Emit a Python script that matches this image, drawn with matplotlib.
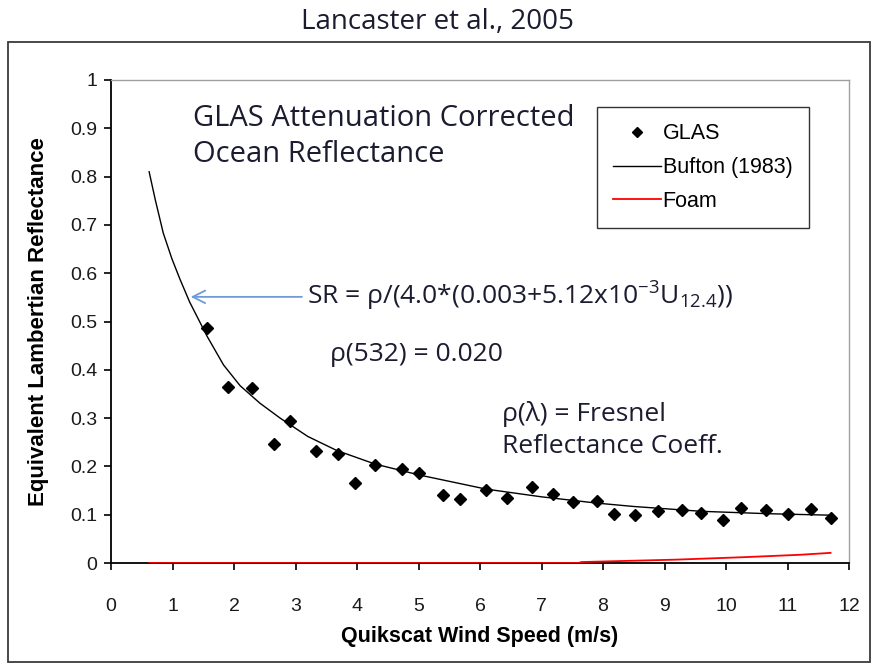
import matplotlib
matplotlib.use("Agg")
import matplotlib.pyplot as plt
from matplotlib.patches import Rectangle
import numpy as np

plt.rcParams['mathtext.fontset'] = 'custom'
plt.rcParams['mathtext.rm'] = 'Open Sans'
plt.rcParams['mathtext.it'] = 'Open Sans'

glas_x = [1.56, 1.90, 2.30, 2.65, 2.91, 3.33, 3.69, 3.97, 4.29, 4.73, 5.01, 5.40, 5.68,
          6.10, 6.44, 6.85, 7.19, 7.51, 7.90, 8.18, 8.52, 8.89, 9.28, 9.59, 9.95,
          10.24, 10.65, 11.01, 11.38, 11.71]
glas_y = [0.487, 0.364, 0.362, 0.247, 0.293, 0.232, 0.225, 0.166, 0.203, 0.195, 0.186, 0.141, 0.133,
          0.151, 0.135, 0.157, 0.143, 0.126, 0.128, 0.101, 0.099, 0.108, 0.110, 0.104, 0.089,
          0.114, 0.110, 0.101, 0.112, 0.093]

# Bufton (1983) curve
bufton_x = [0.62, 0.72, 0.85, 0.99, 1.12, 1.28, 1.56, 1.83, 2.10, 2.42, 2.75, 3.20, 3.67,
            4.29, 5.02, 6.10, 7.00, 7.90, 8.50, 9.60, 10.70, 11.70]
bufton_y = [0.810, 0.752, 0.683, 0.630, 0.588, 0.540, 0.470, 0.410, 0.367, 0.331, 0.300, 0.262,
            0.233, 0.205, 0.182, 0.153, 0.137, 0.124, 0.117, 0.107, 0.102, 0.099]

# Foam contribution
foam_x = [0.62, 7.60, 7.65, 9.20, 10.28, 11.20, 11.70]
foam_y = [0.0, 0.0, 0.002, 0.007, 0.012, 0.017, 0.021]

txt_font = ['Open Sans', 'DejaVu Sans']
ax_font = ['Liberation Sans Narrow', 'Liberation Sans', 'DejaVu Sans']
lbl_font = ['Liberation Sans', 'DejaVu Sans']
txt_color = '#1c1c30'

fig = plt.figure(figsize=(8.75, 6.66), dpi=100)
ax = fig.add_axes([111 / 875, 1 - 563 / 666, 738 / 875, 483 / 666])

h_bufton, = ax.plot(bufton_x, bufton_y, color='black', lw=1.0, label='Bufton (1983)', zorder=3)
h_foam, = ax.plot(foam_x, foam_y, color='red', lw=1.3, label='Foam', zorder=4)
h_glas, = ax.plot(glas_x, glas_y, ls='none', marker='D', ms=6, color='black', label='GLAS', zorder=5)

ax.set_xlim(0, 12)
ax.set_ylim(0, 1)
ax.set_xticks(range(0, 13))
ax.set_yticks(np.arange(0, 1.01, 0.1))
ax.set_yticklabels(['0', '0.1', '0.2', '0.3', '0.4', '0.5', '0.6', '0.7', '0.8', '0.9', '1'])
for lab in ax.get_xticklabels() + ax.get_yticklabels():
    lab.set_family(ax_font)
    lab.set_fontsize(14)
    lab.set_color('#1a1a1a')
ax.tick_params(direction='out', length=5, width=1.2)
ax.tick_params(axis='y', pad=5)
ax.tick_params(axis='x', pad=20)

for s in ['left', 'bottom']:
    ax.spines[s].set_color('black')
    ax.spines[s].set_linewidth(1.3)
for s in ['top', 'right']:
    ax.spines[s].set_color('#a0a0a0')
    ax.spines[s].set_linewidth(1.0)

ax.set_xlabel('Quikscat Wind Speed (m/s)', family=lbl_font, fontsize=15.5,
              fontweight='bold', labelpad=8)
ax.set_ylabel('Equivalent Lambertian Reflectance', family=lbl_font, fontsize=16,
              fontweight='bold', labelpad=15)

# annotations
ax.text(1.33, 0.95, 'GLAS Attenuation Corrected\nOcean Reflectance', family=txt_font,
        fontsize=21, color=txt_color, va='top', ha='left', linespacing=1.3)
ax.annotate('', xy=(1.25, 0.551), xytext=(3.15, 0.551),
            arrowprops=dict(arrowstyle='->,head_length=0.9,head_width=0.45',
                            color='#6f9bd6', lw=1.3))
ax.text(3.18, 0.551, 'SR = ρ/(4.0*(0.003+5.12x10$^{-3}$U$_{12.4}$))', family=txt_font,
        fontsize=19, color=txt_color, va='center', ha='left')
ax.text(3.56, 0.431, 'ρ(532) = 0.020', family=txt_font, fontsize=19,
        color=txt_color, va='center', ha='left')
ax.text(6.36, 0.275, 'ρ(λ) = Fresnel\nReflectance Coeff.', family=txt_font, fontsize=19,
        color=txt_color, va='center', ha='left', linespacing=1.35)

leg = ax.legend([h_glas, h_bufton, h_foam], ['GLAS', 'Bufton (1983)', 'Foam'],
                loc='upper left', bbox_to_anchor=(597 / 875, 1 - 107 / 666),
                bbox_transform=fig.transFigure, frameon=True, fancybox=False,
                prop={'family': lbl_font, 'size': 15.5}, handlelength=2.2, markerscale=0.8,
                borderpad=0.75, labelspacing=0.6, handletextpad=0.1, borderaxespad=0)
leg.get_frame().set_edgecolor('black')
leg.get_frame().set_linewidth(1.0)

fig.text(0.5, 1 - 22 / 666, 'Lancaster et al., 2005', family=txt_font, fontsize=20,
         color=txt_color, ha='center', va='center')
fig.patches.append(Rectangle((8 / 875, 1 - 662 / 666), 862 / 875, 620 / 666,
                             transform=fig.transFigure, fill=False,
                             edgecolor='#3a3a3a', lw=1.3))

fig.savefig('out.png', dpi=100)
